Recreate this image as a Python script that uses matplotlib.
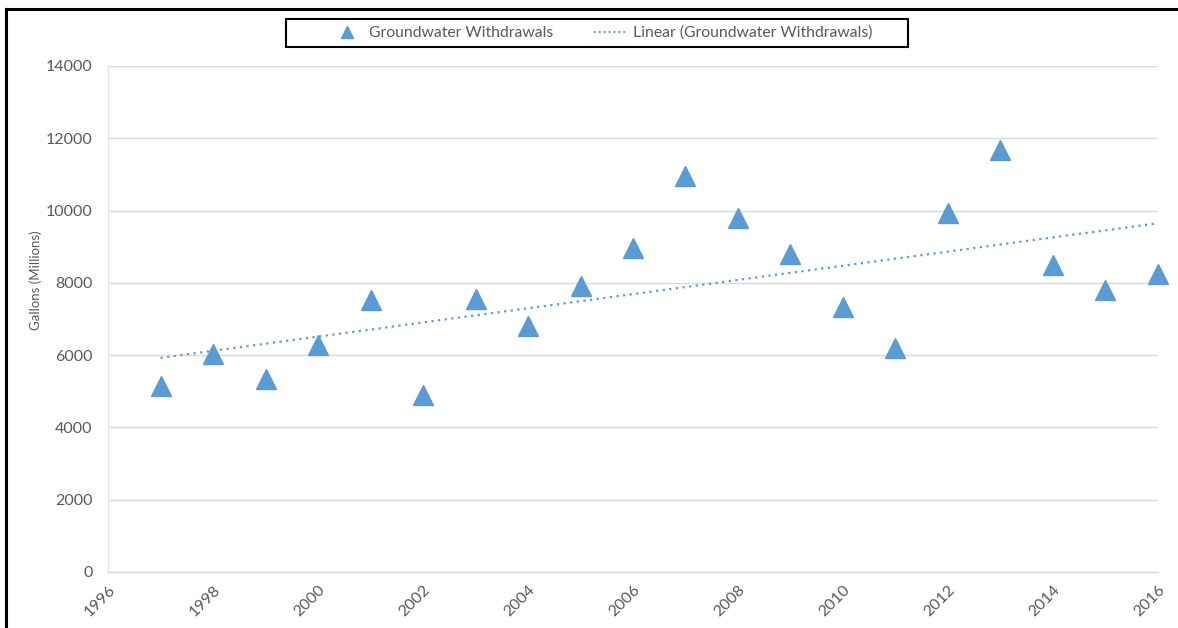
import numpy as np
import matplotlib
matplotlib.use("Agg")
import matplotlib.pyplot as plt
from matplotlib.lines import Line2D
from matplotlib.patches import Rectangle

# annual groundwater withdrawals, millions of gallons
years = [1997, 1998, 1999, 2000, 2001, 2002, 2003, 2004, 2005, 2006,
         2007, 2008, 2009, 2010, 2011, 2012, 2013, 2014, 2015, 2016]
withdrawals = [5150, 6030, 5340, 6280, 7530, 4900, 7550, 6810, 7910, 8970,
               10960, 9800, 8800, 7330, 6200, 9930, 11680, 8500, 7800, 8250]

x_ticks = list(range(1996, 2017, 2))
y_ticks = list(range(0, 14001, 2000))

blue = "#5B9BD5"
text_grey = "#595959"
grid_grey = "#D9D9D9"

plt.rcParams["font.family"] = ["Lato", "DejaVu Sans"]

fig = plt.figure(figsize=(11.78, 6.28), dpi=100)
ax = fig.add_axes([0.0917, 0.0892, 0.8913, 0.8058])

# linear trend through the yearly points
coef = np.polyfit(years, withdrawals, 1)
trend = np.polyval(coef, years)

ax.plot(years, withdrawals, linestyle="none", marker="^", markersize=14,
        color=blue, zorder=3, clip_on=False)
ax.plot(years, trend, linestyle=(0, (1, 2)), linewidth=1.6, color=blue,
        zorder=2)

ax.set_xlim(1996, 2016)
ax.set_ylim(0, 14000)
ax.set_xticks(x_ticks)
ax.set_yticks(y_ticks)
ax.set_xticklabels([str(t) for t in x_ticks], rotation=45, ha="right",
                   rotation_mode="anchor")
ax.tick_params(axis="both", length=0, labelsize=11.5, colors=text_grey)
ax.tick_params(axis="x", pad=8)
ax.tick_params(axis="y", pad=11)

ax.grid(axis="y", color=grid_grey, linewidth=1)
ax.set_axisbelow(True)
for side in ["top", "right"]:
    ax.spines[side].set_visible(False)
for side in ["left", "bottom"]:
    ax.spines[side].set_color(grid_grey)
    ax.spines[side].set_linewidth(1)
ax.spines["left"].set_color("#E6E6E6")

ax.set_ylabel("Gallons (Millions)", fontsize=9.5, color=text_grey)
ax.yaxis.set_label_coords(-0.063, 0.577)

# legend content without its own frame; the box is drawn separately
legend_handles = [
    Line2D([], [], linestyle="none", marker="^", markersize=9, color=blue),
    Line2D([], [], linestyle=(0, (1, 1.5)), linewidth=1.4, color=blue),
]
fig.legend(legend_handles,
           ["Groundwater Withdrawals", "Linear (Groundwater Withdrawals)"],
           loc="center", bbox_to_anchor=(0.5106, 0.9475), ncol=2,
           frameon=False, fontsize=11.3, labelcolor=text_grey,
           handlelength=2.1, columnspacing=2.6, handletextpad=0.35,
           borderpad=0.2)
fig.add_artist(Rectangle((286 / 1178, 1 - 47 / 628), 622 / 1178, 28 / 628,
                         transform=fig.transFigure, fill=False,
                         edgecolor="black", linewidth=1.5))

# outer frame along the left and top edges
fig.add_artist(Line2D([0.0055, 0.0055], [0.0, 0.985], color="black",
                      linewidth=2.2, transform=fig.transFigure))
fig.add_artist(Line2D([0.0055, 1.0], [0.985, 0.985], color="black",
                      linewidth=2.2, transform=fig.transFigure))

fig.savefig("out.png", dpi=100)
